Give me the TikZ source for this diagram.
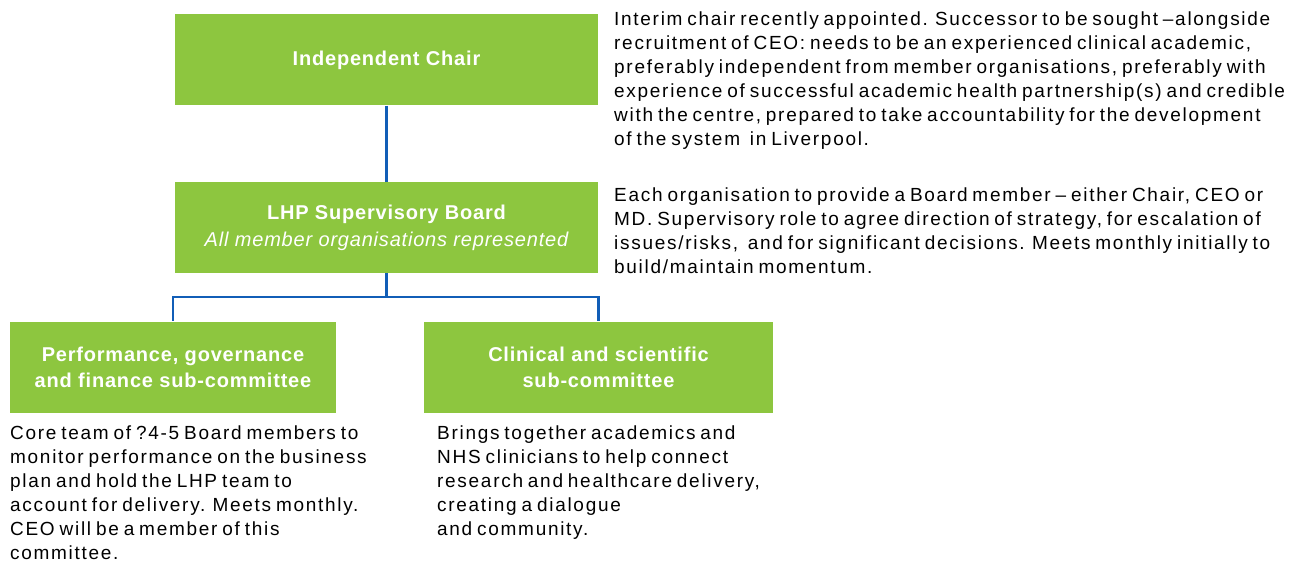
\documentclass[tikz,border=0pt]{standalone}
\usepackage{fontspec}
\setmainfont{Liberation Sans}
\newfontfamily\notefont[LetterSpace=9, WordSpace=0.7]{Liberation Sans}
\newfontfamily\boxfont[LetterSpace=4]{Liberation Sans}
\usetikzlibrary{positioning}
\definecolor{lhpGreen}{RGB}{141,198,63}
\definecolor{lineBlue}{RGB}{17,94,183}

\begin{document}
\begin{tikzpicture}[
    x=1pt, y=-1pt,
    node distance=76pt,
    box/.style={
        rectangle,
        fill=lhpGreen,
        text=white,
        font=\boxfont\fontsize{20}{26}\selectfont\bfseries,
        align=center,
        minimum height=91pt,
        inner sep=0pt
    },
    note/.style={
        align=left,
        anchor=north west,
        inner sep=0pt,
        font=\notefont\fontsize{19}{24}\selectfont
    },
    link/.style={
        draw=lineBlue,
        line width=2.2pt
    }
]

    \useasboundingbox (0,0) rectangle (1292,577);

    \node[box, minimum width=423pt] (chair) at (386.5,60) {Independent Chair};
    \node[box, minimum width=423pt, below=of chair] (board) {LHP Supervisory Board\\[1pt]{\mdseries\itshape All member organisations represented}};
    \node[box, minimum width=326pt] (perf) at (173,367) {Performance, governance\\and finance sub-committee};
    \node[box, minimum width=349pt] (clin) at (598.5,367) {Clinical and scientific\\sub-committee};

    \coordinate (split) at (386.5,297);

    \draw[link] (chair) -- (board);
    \draw[link] (board) -- (split) -| (perf);
    \draw[link] (split) -| (clin);

    % side notes
    \node[note] (chairnote) at (614,12) {Interim chair recently appointed. Successor to be sought –alongside\\
        recruitment of CEO: needs to be an experienced clinical academic,\\
        preferably independent from member organisations, preferably with\\
        experience of successful academic health partnership(s) and credible\\
        with the centre, prepared to take accountability for the development\\
        of the system\ \ in Liverpool.};
    \node[note] (boardnote) at (614,188) {Each organisation to provide a Board member – either Chair, CEO or\\
        MD. Supervisory role to agree direction of strategy, for escalation of\\
        issues/risks,\ \ and for significant decisions. Meets monthly initially to\\
        build/maintain momentum.};
    \node[note] (perfnote) at (10,426) {Core team of ?4-5 Board members to\\
        monitor performance on the business\\
        plan and hold the LHP team to\\
        account for delivery. Meets monthly.\\
        CEO will be a member of this\\
        committee.};
    \node[note] (clinnote) at (437,426) {Brings together academics and\\
        NHS clinicians to help connect\\
        research\ and healthcare delivery,\\
        creating a dialogue\\
        and community.};

\end{tikzpicture}
\end{document}
